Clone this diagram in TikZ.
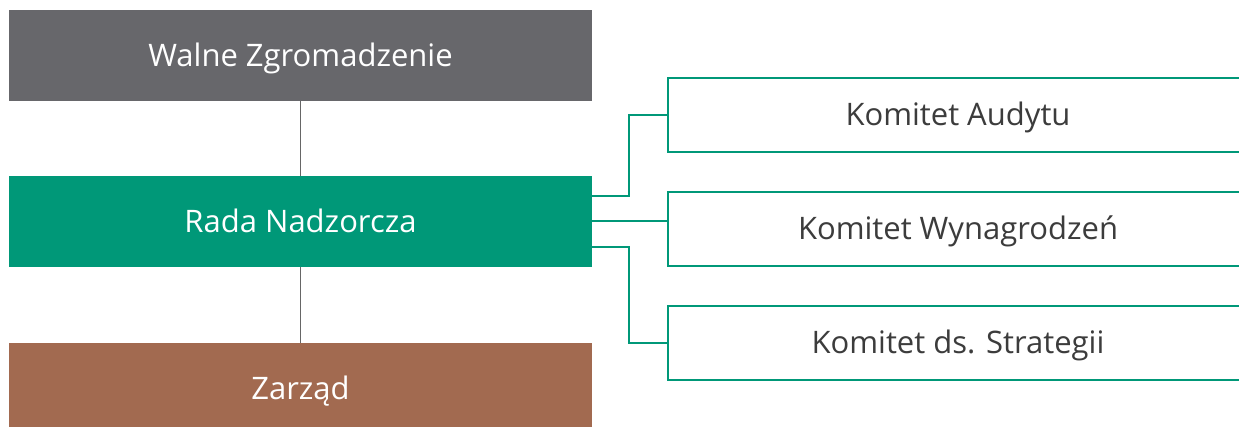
\documentclass[tikz,border=0pt]{standalone}
\usepackage{fontspec}
\setmainfont{Open Sans}
\usetikzlibrary{positioning}
\definecolor{walnegray}{HTML}{67676B}
\definecolor{radagreen}{HTML}{009878}
\definecolor{zarzadbrown}{HTML}{A26A50}
\definecolor{linegray}{HTML}{666666}
\definecolor{comtext}{HTML}{3C3C3C}
\tikzset{
	mainbox/.style={inner sep=0pt, minimum width=291.5pt, minimum height=45.5pt,
		text height=11pt, text depth=0pt,
		text=white, font=\fontsize{15.5}{18}\selectfont},
	combox/.style={draw=radagreen, line width=1pt, fill=white, inner sep=0pt,
		minimum width=290pt, minimum height=37pt, text=comtext,
		text height=11pt, text depth=0pt,
		font=\fontsize{15.5}{18}\selectfont},
	trunk/.style={draw=linegray, line width=0.8pt},
	branch/.style={draw=radagreen, line width=1pt}
}
\begin{document}
\begin{tikzpicture}[x=0.5pt, y=-0.5pt]
	\useasboundingbox (0,0) rectangle (1239,427);
	\begin{scope}
	\clip (0,0) rectangle (1239,427);
	% organy spolki
	\node[mainbox, fill=walnegray] (walne) at (300.5,55.5) {Walne Zgromadzenie};
	\node[mainbox, fill=radagreen] (rada) at (300.5,221.5) {Rada Nadzorcza};
	\node[mainbox, fill=zarzadbrown] (zarzad) at (300.5,388.5) {Zarząd};
	% komitety
	\node[combox] (audyt) at (958,115) {Komitet Audytu};
	\node[combox] (wynagr) at (958,229) {Komitet Wynagrodzeń};
	\node[combox] (strateg) at (958,343) {Komitet ds. Strategii};
	% polaczenia
	\draw[trunk] (walne.south) -- (rada.north);
	\draw[trunk] (rada.south) -- (zarzad.north);
	\draw[branch] ([yshift=12.75pt]rada.east) -- ++(37,0) |- (audyt.west);
	\draw[branch] (rada.east) -- (rada.east -| wynagr.west);
	\draw[branch] ([yshift=-12.75pt]rada.east) -- ++(37,0) |- (strateg.west);
	\end{scope}
\end{tikzpicture}
\end{document}
